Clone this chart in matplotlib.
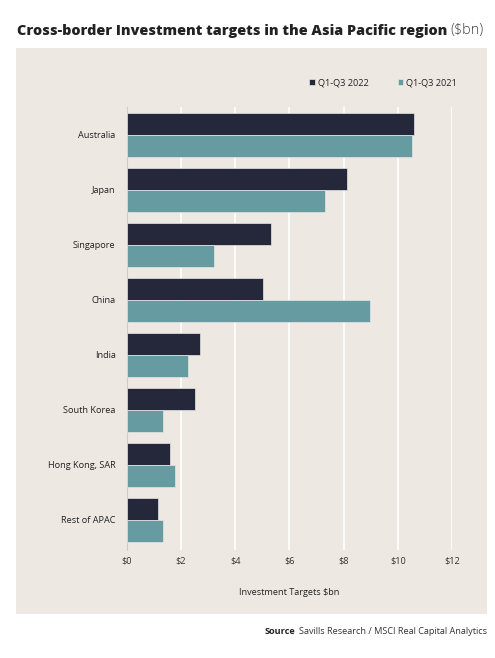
import matplotlib
matplotlib.use('Agg')
import matplotlib.pyplot as plt
from matplotlib.patches import Rectangle

plt.rcParams['font.family'] = ['Open Sans', 'DejaVu Sans']

countries = ['Australia', 'Japan', 'Singapore', 'China', 'India', 'South Korea', 'Hong Kong, SAR', 'Rest of APAC']
q_2022 = [10.6, 8.14, 5.34, 5.02, 2.70, 2.52, 1.61, 1.14]
q_2021 = [10.54, 7.33, 3.21, 8.99, 2.25, 1.35, 1.79, 1.34]
xticks = [0, 2, 4, 6, 8, 10, 12]
xtick_labels = ['$0', '$2', '$4', '$6', '$8', '$10', '$12']

dark = '#25273a'
teal = '#669ba2'
panel = '#ede8e2'

W, H = 495, 658
fig = plt.figure(figsize=(W/100, H/100), dpi=100)
fig.patch.set_facecolor('white')

# beige panel behind chart
fig.patches.append(Rectangle((16/W, 1-614/H), (487-16)/W, (614-48)/H,
                             transform=fig.transFigure, facecolor=panel, edgecolor='none', zorder=-5))

ax = fig.add_axes([126.7/W, 1-550/H, (452-126.7)/W, (550-107)/H])
ax.set_zorder(1)
ax.patch.set_alpha(0)

pos = list(range(len(countries)))
ax.barh([p-0.2 for p in pos], q_2022, height=0.4, color=dark, edgecolor='#e8e6e6', linewidth=0.5, label='Q1-Q3 2022', zorder=3)
ax.barh([p+0.2 for p in pos], q_2021, height=0.4, color=teal, edgecolor='#e8e6e6', linewidth=0.5, label='Q1-Q3 2021', zorder=3)

ax.set_xlim(0, 12)
ax.set_ylim(7.55, -0.5)
ax.set_xticks(xticks)
ax.set_xticklabels(xtick_labels, fontsize=6.6, color='#333333')
ax.set_yticks(pos)
ax.set_yticklabels(countries, fontsize=6.6, color='#222222')
ax.tick_params(length=0, pad=8)
ax.tick_params(axis='x', pad=5)
ax.grid(axis='x', color='white', linewidth=1.2, zorder=0)
for s in ['top', 'right', 'bottom']:
    ax.spines[s].set_visible(False)
ax.spines['left'].set_color('#cfcbc6')
ax.spines['left'].set_linewidth(0.8)
ax.set_xlabel('Investment Targets $bn', fontsize=6.6, color='#222222', labelpad=16)

leg = ax.legend(loc='center right', bbox_to_anchor=(1.04, 1+24/443), ncol=2, frameon=False,
                fontsize=6.6, handlelength=0.6, handleheight=0.6, handletextpad=0.3, columnspacing=3.2)
for t in leg.get_texts():
    t.set_color('#222222')

# title: bold part then light part
t1 = fig.text(17/W, 1-31/H, 'Cross-border Investment targets in the Asia Pacific region',
              fontsize=10.4, fontweight=800, color='#222222', va='center', ha='left')
fig.canvas.draw()
bb = t1.get_window_extent()
fig.text(bb.x1/W + 3/W, 1-31/H, '($bn)', fontsize=10.4, fontweight='light', color='#444444', va='center', ha='left')

# source line
s2 = fig.text(487/W, 1-632/H, 'Savills Research / MSCI Real Capital Analytics', fontsize=6.6,
              color='#333333', ha='right', va='center')
fig.canvas.draw()
bb2 = s2.get_window_extent()
fig.text(bb2.x0/W - 4/W, 1-632/H, 'Source', fontsize=6.6, fontweight='bold', color='#222222', ha='right', va='center')

fig.savefig('out.png', dpi=100, facecolor='white')
